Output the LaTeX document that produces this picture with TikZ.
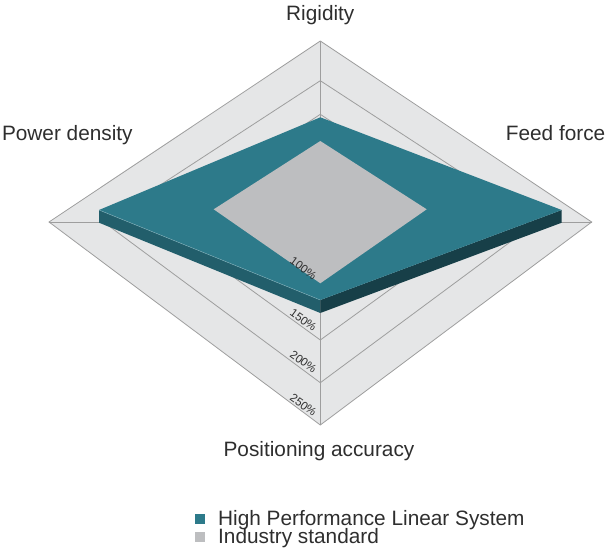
\documentclass[tikz,border=0pt]{standalone}
\usepackage{fontspec}
\setmainfont{Liberation Sans}
\definecolor{planefill}{HTML}{E5E6E7}
\definecolor{gridline}{HTML}{9E9E9E}
\definecolor{tealtop}{HTML}{2D7A8A}
\definecolor{tealleft}{HTML}{225E6B}
\definecolor{tealright}{HTML}{173F48}
\definecolor{stdgray}{HTML}{BDBEC0}
\definecolor{txt}{HTML}{2E2E2E}
\tikzset{
  gridstroke/.style={draw=gridline, line width=0.8pt},
  axislabel/.style={text=txt, inner sep=0pt, font=\fontsize{20.8}{24}\selectfont},
  pctlabel/.style={text=txt, inner sep=0pt, rotate=-36, font=\fontsize{11.5}{13}\selectfont},
  legendbox/.style={minimum width=10pt, minimum height=9.5pt, inner sep=0pt, draw=none},
}
\begin{document}
\begin{tikzpicture}[x=1pt,y=-1pt]
\useasboundingbox (0,0) rectangle (605,555);
% plane coordinates
\coordinate (C) at (320.3,222);
\coordinate (OT) at (320.3,41);
\coordinate (OR) at (591.7,222);
\coordinate (OB) at (320.3,425);
\coordinate (OL) at (49,222);
\coordinate (AT) at (320.3,80.7);
\coordinate (AR) at (537.1,222);
\coordinate (AB) at (320.3,382.7);
\coordinate (AL) at (103.5,222);
\coordinate (BT) at (320.3,114.3);
\coordinate (BR) at (483,222);
\coordinate (BB) at (320.3,340);
\coordinate (BL) at (157.6,222);
% plane
\fill[planefill] (OT) -- (OR) -- (OB) -- (OL) -- cycle;
\draw[gridstroke] (OT) -- (OR) -- (OB) -- (OL) -- cycle;
\draw[gridstroke] (AT) -- (AR) -- (AB) -- (AL) -- cycle;
\draw[gridstroke] (BT) -- (BR) -- (BB) -- (BL) -- cycle;
\draw[gridstroke] (OT) -- (OB);
\draw[gridstroke] (OL) -- (OR);
% teal solid
\coordinate (HT) at (320.3,117.3);
\coordinate (HR) at (561.7,210);
\coordinate (HB) at (320.3,300);
\coordinate (HL) at (99,210);
\coordinate (HRd) at (561.7,222.7);
\coordinate (HBd) at (320.3,313);
\coordinate (HLd) at (99,222.7);
\fill[tealleft] (HL) -- (HB) -- (HBd) -- (HLd) -- cycle;
\fill[tealright] (HB) -- (HR) -- (HRd) -- (HBd) -- cycle;
\fill[tealtop] (HT) -- (HR) -- (HB) -- (HL) -- cycle;
\draw[line width=0.4pt, draw=tealtop!60!white] (HL) -- (HB);
% industry standard
\coordinate (ST) at (320.3,141);
\coordinate (SR) at (426.7,209.3);
\coordinate (SB) at (320.3,283.3);
\coordinate (SL) at (213.7,209.3);
\fill[stdgray] (ST) -- (SR) -- (SB) -- (SL) -- cycle;
% percent labels
\node[pctlabel] (p100) at (303.3,268.3) {100\%};
\node[pctlabel] (p150) at (303.3,320) {150\%};
\node[pctlabel] (p200) at (303.3,361.7) {200\%};
\node[pctlabel] (p250) at (303.3,405) {250\%};
% axis labels
\node[axislabel, anchor=base] (rig) at (320.3,20.5) {Rigidity};
\node[axislabel, anchor=base west] (pow) at (1.8,140) {Power density};
\node[axislabel, anchor=base east] (feed) at (605.5,140) {Feed force};
\node[axislabel, anchor=base] (pos) at (319,456.7) {Positioning accuracy};
% legend
\node[legendbox, fill=tealtop] (lg1) at (200,518.8) {};
\node[legendbox, fill=stdgray] (lg2) at (200,537) {};
\node[axislabel, anchor=base west] (lt1) at (218,525.5) {High Performance Linear System};
\node[axislabel, anchor=base west] (lt2) at (218,543.5) {Industry standard};
\end{tikzpicture}
\end{document}
